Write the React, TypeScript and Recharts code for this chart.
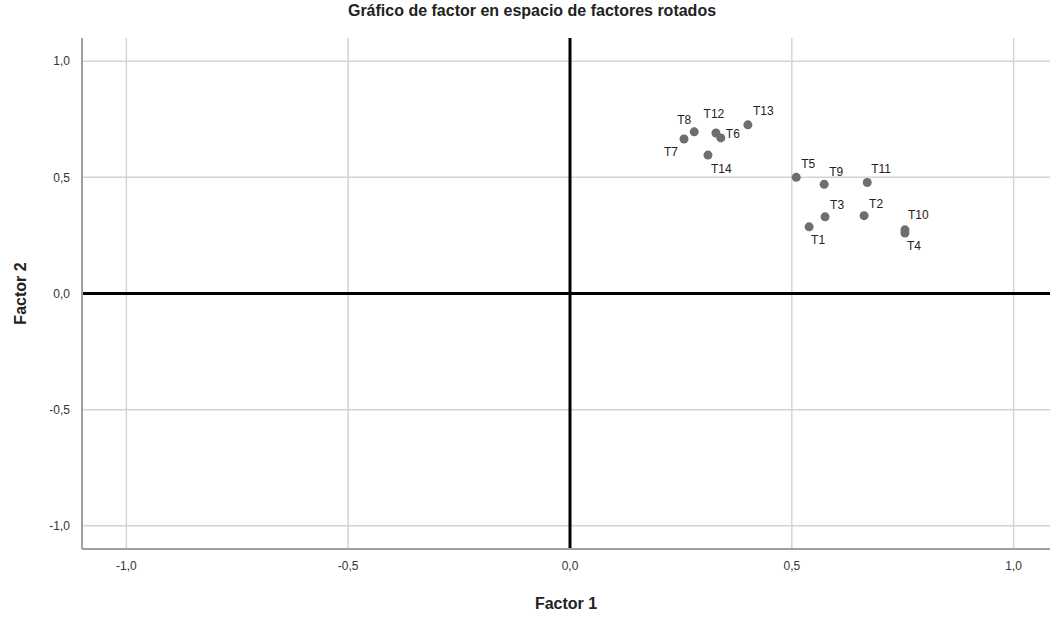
import React from 'react';
import {
  ScatterChart,
  Scatter,
  XAxis,
  YAxis,
  ReferenceLine,
  Label,
} from 'recharts';

// rotated factor loadings
const items = ['T1', 'T2', 'T3', 'T4', 'T5', 'T6', 'T7', 'T8', 'T9', 'T10', 'T11', 'T12', 'T13', 'T14'];
const factor1 = [0.539, 0.663, 0.575, 0.755, 0.51, 0.34, 0.257, 0.28, 0.573, 0.755, 0.67, 0.329, 0.401, 0.311];
const factor2 = [0.287, 0.335, 0.33, 0.26, 0.5, 0.67, 0.665, 0.696, 0.47, 0.274, 0.478, 0.691, 0.726, 0.596];
const axisTicks = [-1, -0.5, 0, 0.5, 1];

const data = items.map((name, i) => ({ name, f1: factor1[i], f2: factor2[i] }));

// where each label sits relative to its point (dx, dy, anchor)
const labelPos: Record<string, [number, number, string]> = {
  T1: [2, 17, 'start'],
  T2: [5, -8, 'start'],
  T3: [5, -8, 'start'],
  T4: [2, 17, 'start'],
  T5: [5, -9, 'start'],
  T6: [5, 0, 'start'],
  T7: [-6, 17, 'end'],
  T8: [-3, -8, 'end'],
  T9: [5, -8, 'start'],
  T10: [3, -11, 'start'],
  T11: [4, -9, 'start'],
  T12: [-2, -15, 'middle'],
  T13: [5, -10, 'start'],
  T14: [3, 18, 'start'],
};

const fmt = (v: number) => v.toFixed(1).replace('.', ',');

const font = 'Arial, "Liberation Sans", sans-serif';

const Dot = (props: any) => {
  const { cx, cy, payload } = props;
  const [dx, dy, anchor] = labelPos[payload.name] || [5, -8, 'start'];
  return (
    <g>
      <circle cx={cx} cy={cy} r={4.5} fill="#6e6e6e" />
      <text
        x={cx + dx}
        y={cy + dy}
        textAnchor={anchor as any}
        fontSize={12}
        fontFamily={font}
        fill="#222"
      >
        {payload.name}
      </text>
    </g>
  );
};

export default function App() {
  return (
    <div style={{ position: 'absolute', top: 0, left: 0, width: 1050, height: 617, background: '#fff', overflow: 'hidden' }}>
      <div
        style={{
          position: 'absolute',
          top: 2,
          left: 0,
          width: 1064,
          textAlign: 'center',
          fontFamily: font,
          fontWeight: 'bold',
          fontSize: 16,
          color: '#222',
        }}
      >
        Gráfico de factor en espacio de factores rotados
      </div>
      <ScatterChart width={1050} height={617} margin={{ top: 38, right: 0, bottom: 0, left: 0 }}>
        {axisTicks.map((t) => (
          <ReferenceLine key={'gx' + t} x={t} stroke="#d4d4d4" strokeWidth={1.5} />
        ))}
        {axisTicks.map((t) => (
          <ReferenceLine key={'gy' + t} y={t} stroke="#d4d4d4" strokeWidth={1.5} />
        ))}
        <XAxis
          type="number"
          dataKey="f1"
          domain={[-1.1, 1.082]}
          ticks={axisTicks}
          tickFormatter={fmt}
          allowDataOverflow
          height={68}
          tickLine={false}
          axisLine={{ stroke: '#a0a0a0', strokeWidth: 2 }}
          tick={{ fontSize: 12, fill: '#333', fontFamily: font }}
          tickMargin={6}
        >
          <Label value="Factor 1" position="insideBottom" offset={8} style={{ fontSize: 16, fontWeight: 'bold', fill: '#222', fontFamily: font }} />
        </XAxis>
        <YAxis
          type="number"
          dataKey="f2"
          domain={[-1.1, 1.1]}
          ticks={axisTicks}
          tickFormatter={fmt}
          allowDataOverflow
          width={82}
          tickLine={false}
          axisLine={{ stroke: '#a0a0a0', strokeWidth: 2 }}
          tick={{ fontSize: 12, fill: '#333', fontFamily: font }}
          tickMargin={6}
        >
          <Label value="Factor 2" angle={-90} position="insideLeft" offset={20} style={{ fontSize: 16, fontWeight: 'bold', fill: '#222', fontFamily: font, textAnchor: 'middle' }} />
        </YAxis>
        <ReferenceLine x={0} stroke="#000" strokeWidth={3} />
        <ReferenceLine y={0} stroke="#000" strokeWidth={3} />
        <Scatter data={data} shape={<Dot />} isAnimationActive={false} />
      </ScatterChart>
    </div>
  );
}
